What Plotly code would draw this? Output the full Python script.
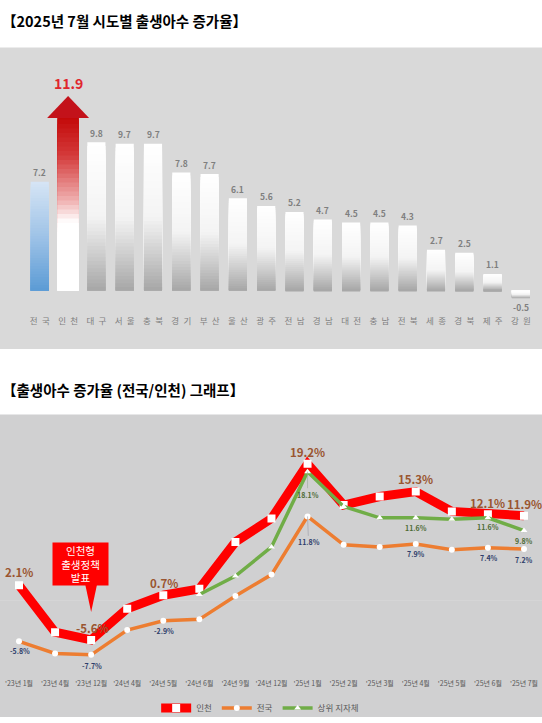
import plotly.graph_objects as go

# ---------------- data ----------------
regions = ["전국", "인천", "대구", "서울", "충북", "경기", "부산", "울산", "광주",
           "전남", "경남", "대전", "충남", "전북", "세종", "경북", "제주", "강원"]
region_rates = [7.2, 11.9, 9.8, 9.7, 9.7, 7.8, 7.7, 6.1, 5.6,
                5.2, 4.7, 4.5, 4.5, 4.3, 2.7, 2.5, 1.1, -0.5]

months = ["'23년 1월", "'23년 4월", "'23년 12월", "'24년 4월", "'24년 5월", "'24년 6월",
          "'24년 9월", "'24년 12월", "'25년 1월", "'25년 2월", "'25년 3월", "'25년 4월",
          "'25년 5월", "'25년 6월", "'25년 7월"]
incheon = [2.1, -4.5, -5.6, -1.2, 0.7, 1.6, 8.2, 11.5, 19.2, 13.4, 14.6, 15.3, 12.5, 12.1, 11.9]
national = [-5.8, -7.5, -7.7, -4.2, -2.9, -2.7, 0.6, 3.6, 11.8, 7.8, 7.5, 7.9, 7.1, 7.4, 7.2]
top_local = [None, None, None, None, None, 0.8, 3.4, 7.5, 18.1, 13.2, 11.6, 11.6, 11.4, 11.6, 9.8]

incheon_label_idx = [0, 2, 4, 8, 11, 13, 14]
national_label_idx = [0, 2, 4, 8, 11, 13, 14]
top_local_label_idx = [8, 11, 13, 14]

series_names = ["인천", "전국", "상위 지자체"]
title_top = "【2025년 7월 시도별 출생아수 증가율】"
title_bottom = "【출생아수 증가율 (전국/인천) 그래프】"
callout_text = "인천형<br>출생정책<br>발표"

# ---------------- geometry helpers ----------------
W, H = 542, 723
FONT = "Noto Sans CJK KR"


def py(p):
    return 1 - p / H


def hex2rgb(h):
    h = h.lstrip("#")
    return tuple(int(h[i:i + 2], 16) for i in (0, 2, 4))


def interp(stops, t):
    t = max(0.0, min(1.0, t))
    for (t0, c0), (t1, c1) in zip(stops, stops[1:]):
        if t <= t1:
            f = 0 if t1 == t0 else (t - t0) / (t1 - t0)
            a, b = hex2rgb(c0), hex2rgb(c1)
            r = [round(a[i] + (b[i] - a[i]) * f) for i in range(3)]
            return "rgb(%d,%d,%d)" % tuple(r)
    return "rgb(%d,%d,%d)" % hex2rgb(stops[-1][1])


gray_stops = [(0, "#ffffff"), (0.5, "#f4f4f4"), (0.8, "#c6c6c6"), (1, "#a6a6a6")]
blue_stops = [(0, "#d6e5f5"), (0.5, "#9fc3e7"), (1, "#5b9bd5")]
red_stops = [(0, "#c00000"), (0.25, "#d43a3a"), (0.5, "#efb0b0"), (0.62, "#ffffff"), (1, "#ffffff")]

fig = go.Figure()

# ---------------- top chart: gradient bars ----------------
N = 40
widths = [0.75 if r == "인천" else 0.64 for r in regions]
for k in range(N):
    ys, cols = [], []
    for r, v in zip(regions, region_rates):
        ys.append(v * (N - k) / N)
        t = (k + 0.5) / N if v >= 0 else (N - k - 0.5) / N
        stops = blue_stops if r == "전국" else red_stops if r == "인천" else gray_stops
        cols.append(interp(stops, t))
    fig.add_trace(go.Bar(x=regions, y=ys, width=widths, marker=dict(color=cols, line=dict(width=0)),
                         showlegend=False, hoverinfo="skip", xaxis="x", yaxis="y"))

# value labels
for i, (r, v) in enumerate(zip(regions, region_rates)):
    if r == "인천":
        fig.add_annotation(x=i, y=v, xref="x", yref="y", text="<b>%.1f</b>" % v, showarrow=False,
                           yshift=27.5, font=dict(family=FONT, size=14, color="#e0262d"))
    else:
        fig.add_annotation(x=i, y=v, xref="x", yref="y", text="<b>%.1f</b>" % v, showarrow=False,
                           yshift=9.5 if v >= 0 else -9,
                           font=dict(family=FONT, size=8.5, color="#7f7f7f"))

# arrow head on Incheon
ii = regions.index("인천")
fig.add_shape(type="path", xref="x", yref="y", xsizemode="pixel", ysizemode="pixel",
              xanchor=ii, yanchor=region_rates[ii],
              path="M -21,-7.5 L 21,-7.5 L 0,14.5 Z",
              fillcolor="#c3121a", line=dict(width=0), layer="above")

# ---------------- bottom chart: lines ----------------
fig.add_trace(go.Scatter(x=months, y=incheon, name=series_names[0], mode="lines+markers",
                         line=dict(color="#ff0000", width=9),
                         marker=dict(symbol="square", size=8, color="white", line=dict(width=0)),
                         xaxis="x2", yaxis="y2", hoverinfo="skip"))
fig.add_trace(go.Scatter(x=months, y=national, name=series_names[1], mode="lines+markers",
                         line=dict(color="#ed7d31", width=3.5),
                         marker=dict(symbol="circle", size=6, color="white", line=dict(width=0)),
                         xaxis="x2", yaxis="y2", hoverinfo="skip"))
fig.add_trace(go.Scatter(x=months, y=top_local, name=series_names[2], mode="lines+markers",
                         line=dict(color="#70ad47", width=3.5), connectgaps=False,
                         marker=dict(symbol="triangle-up", size=6, color="white", line=dict(width=0)),
                         xaxis="x2", yaxis="y2", hoverinfo="skip"))

inc_shift = {0: (0, 13), 2: (1, 12), 4: (1, 12), 8: (0, 12), 11: (0, 12.5), 13: (0, 11.5), 14: (1, 11.5)}
for i in incheon_label_idx:
    dx, dy = inc_shift[i]
    fig.add_annotation(x=months[i], y=incheon[i], xref="x2", yref="y2", text="<b>%.1f%%</b>" % incheon[i],
                       showarrow=False, xshift=dx, yshift=dy,
                       font=dict(family=FONT, size=11.5, color="#9a5530"))

nat_shift = {0: (1, -10), 2: (1, -11), 4: (1, -10), 11: (0, -10), 13: (1, -10), 14: (0, -10.5)}
for i in national_label_idx:
    txt = "<b>%.1f%%</b>" % national[i]
    f = dict(family=FONT, size=7, color="#2f3e6b")
    if i == 8:
        fig.add_annotation(x=months[i], y=national[i], xref="x2", yref="y2", text=txt,
                           showarrow=True, arrowhead=0, arrowwidth=0.6, arrowcolor="#9a9aa6",
                           ax=1, ay=26, font=f)
    else:
        dx, dy = nat_shift[i]
        fig.add_annotation(x=months[i], y=national[i], xref="x2", yref="y2", text=txt,
                           showarrow=False, xshift=dx, yshift=dy, font=f)

top_shift = {11: (0, -10), 13: (0, -9.5), 14: (0, -10)}
for i in top_local_label_idx:
    txt = "<b>%.1f%%</b>" % top_local[i]
    f = dict(family=FONT, size=7, color="#4e6b35")
    if i == 8:
        fig.add_annotation(x=months[i], y=top_local[i], xref="x2", yref="y2", text=txt,
                           showarrow=True, arrowhead=0, arrowwidth=0.6, arrowcolor="#9aa69a",
                           ax=0, ay=23, font=f)
    else:
        dx, dy = top_shift[i]
        fig.add_annotation(x=months[i], y=top_local[i], xref="x2", yref="y2", text=txt,
                           showarrow=False, xshift=dx, yshift=dy, font=f)

# callout box + pointer
ci = months.index("'23년 12월")
fig.add_annotation(x=months[ci], y=incheon[ci], xref="x2", yref="y2", text=callout_text,
                   showarrow=False, xshift=-10.5, yshift=75.5, width=55,
                   bgcolor="#ff0000", borderpad=0, font=dict(family=FONT, size=10.5, color="white"))
fig.add_shape(type="path", xref="x2", yref="y2", xsizemode="pixel", ysizemode="pixel",
              xanchor=ci, yanchor=incheon[ci], path="M -6,56 L 6,56 L 0,28 Z",
              fillcolor="#ff0000", line=dict(width=0), layer="above")

# ---------------- panels & titles ----------------
fig.add_shape(type="rect", xref="paper", yref="paper", x0=0, x1=1, y0=py(352), y1=py(48),
              fillcolor="#d9d9d9", line=dict(width=0), layer="below")
fig.add_shape(type="rect", xref="paper", yref="paper", x0=0, x1=1, y0=0, y1=py(418),
              fillcolor="#d0d0d1", line=dict(width=0), layer="below")

fig.add_annotation(xref="paper", yref="paper", x=0, y=py(21), xanchor="left", yanchor="middle",
                   text="<b>%s</b>" % title_top, showarrow=False,
                   font=dict(family=FONT, size=14.5, color="black"))
fig.add_annotation(xref="paper", yref="paper", x=0, y=py(393), xanchor="left", yanchor="middle",
                   text="<b>%s</b>" % title_bottom, showarrow=False,
                   font=dict(family=FONT, size=14.5, color="black"))

# ---------------- axes ----------------
bar_px = 15.25
base_px = 293
top_dom = (60, 317)
bot_px = 7.16
zero_px = 605.2
bot_dom = (425, 684)

fig.update_layout(
    width=W, height=H, autosize=False,
    margin=dict(l=0, r=0, t=0, b=0),
    paper_bgcolor="white", plot_bgcolor="rgba(0,0,0,0)",
    barmode="overlay", hovermode=False,
    font=dict(family=FONT),
    xaxis=dict(domain=[25.65 / W, 535.05 / W], type="category", range=[-0.5, 17.5],
               tickmode="array", tickvals=regions, ticktext=["\u2002".join(r) for r in regions],
               tickangle=0, tickfont=dict(family=FONT, size=8.5, color="#7f7f7f"),
               showgrid=False, zeroline=False, showline=False, ticks="", anchor="y"),
    yaxis=dict(domain=[py(top_dom[1]), py(top_dom[0])],
               range=[-(top_dom[1] - base_px) / bar_px, (base_px - top_dom[0]) / bar_px],
               visible=False, anchor="x"),
    xaxis2=dict(domain=[0, 1], type="category", range=[-19 / 36.07, -19 / 36.07 + W / 36.07],
                tickmode="array", tickvals=months, ticktext=months, tickangle=0,
                tickfont=dict(family=FONT, size=7, color="#595959"),
                showgrid=False, zeroline=False, showline=False, ticks="", anchor="y2"),
    yaxis2=dict(domain=[py(bot_dom[1]), py(bot_dom[0])],
                range=[-(bot_dom[1] - zero_px) / bot_px, (zero_px - bot_dom[0]) / bot_px],
                showgrid=False, showticklabels=False, ticks="", showline=False,
                zeroline=True, zerolinecolor="#d5d5d6", zerolinewidth=1, anchor="x2"),
    legend=dict(orientation="h", x=0.48, xanchor="center", y=py(714), yanchor="middle",
                font=dict(family=FONT, size=8.5, color="#595959"), bgcolor="rgba(0,0,0,0)",
                itemwidth=30, tracegroupgap=0),
)

fig.write_html("out.html")
